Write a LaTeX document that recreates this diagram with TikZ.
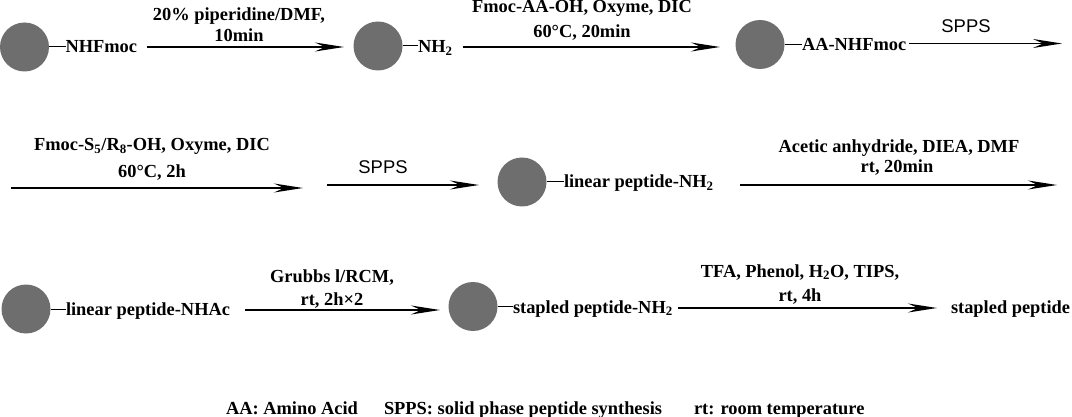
\documentclass[tikz,border=0pt]{standalone}
\usepackage{fontspec}
\setmainfont{Liberation Serif}
\newfontfamily\spps{Liberation Sans}
\usetikzlibrary{arrows.meta}
\definecolor{bead}{RGB}{110,110,110}
\begin{document}
\begin{tikzpicture}[x=1pt,y=-1pt,
  every node/.style={inner sep=0pt,outer sep=0pt,font=\fontsize{18.4}{22}\selectfont\bfseries},
  beadc/.style={circle,fill=bead,minimum size=49pt},
  txt/.style={anchor=base west},
  lab/.style={anchor=base},
  sp/.style={anchor=base,font=\fontsize{18.4}{22}\selectfont\spps},
  bond/.style={line width=1pt},
  arr/.style={line width=1.7pt,-{Stealth[length=29pt,width=9pt,inset=10pt]}}]
\useasboundingbox (0,0) rectangle (1072,417);
% Row 1
\node[beadc] (c1) at (24.5,47) {};
\node[txt] (t1) at (65.5,53) {NHFmoc};
\node[beadc] (c2) at (378,46) {};
\node[txt] (t2) at (418,52.5) {NH\textsubscript{2}};
\node[beadc] (c3) at (760,44.5) {};
\node[txt] (t3) at (802,51) {AA-NHFmoc};
\draw[bond] (c1.east) -- (c1.east -| t1.west);
\draw[bond] (c2.east) -- (c2.east -| t2.west);
\draw[bond] (c3.east) -- (c3.east -| t3.west);
\coordinate (a1s) at (147,47); \coordinate (a1e) at (344,47);
\coordinate (a2s) at (463,47); \coordinate (a2e) at (720,47);
\coordinate (a3s) at (909,43.5); \coordinate (a3e) at (1062,43.5);
\draw[arr] (a1s) -- (a1e);
\draw[arr] (a2s) -- (a2e);
\draw[arr] (a3s) -- (a3e);
\node[lab] (l1a) at (239,21) {20\% piperidine/DMF,};
\node[lab] (l1b) at (239,42) {10min};
\node[lab] (l2a) at (582,13) {Fmoc-AA-OH, Oxyme, DIC};
\node[lab] (l2b) at (582,38) {60°C, 20min};
\node[sp] (s1) at (966,33) {SPPS};
% Row 2
\node[lab] (l4a) at (152,151) {Fmoc-S\textsubscript{5}/R\textsubscript{8}-OH, Oxyme, DIC};
\node[lab] (l4b) at (152,178) {60°C, 2h};
\coordinate (a4s) at (11,188); \coordinate (a4e) at (303,188);
\draw[arr] (a4s) -- (a4e);
\node[sp] (s2) at (383,174) {SPPS};
\coordinate (a5s) at (327,185) ; \coordinate (a5e) at (479,185);
\draw[arr] (a5s) -- (a5e);
\node[beadc] (c4) at (522,182) {};
\node[txt] (t4) at (564,188) {linear peptide-NH\textsubscript{2}};
\draw[bond] (c4.east) -- (c4.east -| t4.west);
\coordinate (a6s) at (740,185); \coordinate (a6e) at (1057,185);
\draw[arr] (a6s) -- (a6e);
\node[lab] (l6a) at (899,153) {Acetic anhydride, DIEA, DMF};
\node[lab] (l6b) at (897,173) {rt, 20min};
% Row 3
\node[beadc] (c5) at (26,309) {};
\node[txt] (t5) at (66,315) {linear peptide-NHAc};
\draw[bond] (c5.east) -- (c5.east -| t5.west);
\coordinate (a7s) at (245,310); \coordinate (a7e) at (440,310);
\draw[arr] (a7s) -- (a7e);
\node[lab] (l7a) at (332,282) {Grubbs l/RCM,};
\node[lab] (l7b) at (332,305) {rt, 2h×2};
\node[beadc] (c6) at (473,306.5) {};
\node[txt] (t6) at (513,313) {stapled peptide-NH\textsubscript{2}};
\draw[bond] (c6.east) -- (c6.east -| t6.west);
\coordinate (a8s) at (678,308); \coordinate (a8e) at (937,308);
\draw[arr] (a8s) -- (a8e);
\node[lab] (l8a) at (800,277) {TFA, Phenol, H\textsubscript{2}O, TIPS,};
\node[lab] (l8b) at (800,301) {rt, 4h};
\node[txt] (t7) at (951,313) {stapled peptide};
% Footer
\node[txt] (f1) at (226,414) {AA: Amino Acid};
\node[txt] (f2) at (384,414) {SPPS: solid phase peptide synthesis};
\node[txt] (f3) at (694,414) {rt: room temperature};
\end{tikzpicture}
\end{document}
